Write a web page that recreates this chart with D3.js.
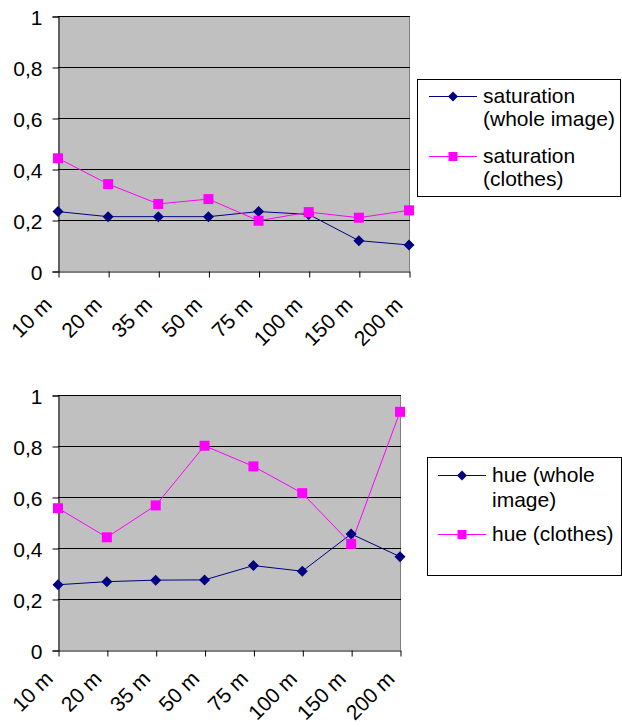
<!DOCTYPE html>
<html>
<head>
<meta charset="utf-8">
<script src="https://cdn.jsdelivr.net/npm/d3@7/dist/d3.min.js"></script>
<style>
  html, body { margin: 0; padding: 0; background: #fff; }
  svg { display: block; }
  text { font-family: "Liberation Sans", Arial, sans-serif; fill: #000; }
</style>
</head>
<body>
<svg id="chart" width="622" height="727"></svg>
<script>
// ---- data ----
const categories = ["10 m", "20 m", "35 m", "50 m", "75 m", "100 m", "150 m", "200 m"];
const yTicks = [0, 0.2, 0.4, 0.6, 0.8, 1];

const satNames = ["saturation (whole image)", "saturation (clothes)"];
const satWhole   = [0.233, 0.213, 0.213, 0.213, 0.233, 0.222, 0.119, 0.102];
const satClothes = [0.442, 0.341, 0.263, 0.282, 0.197, 0.231, 0.209, 0.238];

const hueNames = ["hue (whole image)", "hue (clothes)"];
const hueWhole   = [0.256, 0.268, 0.274, 0.275, 0.331, 0.309, 0.455, 0.366];
const hueClothes = [0.556, 0.442, 0.567, 0.801, 0.720, 0.615, 0.416, 0.934];

// ---- styling ----
const colors = ["#000080", "#FF00FF"];
const markers = ["diamond", "square"];
const fontSize = 21;

const svg = d3.select("#chart");

function drawMarker(g, type, x, y, color, r) {
  if (type === "diamond") {
    g.append("path")
      .attr("d", `M${x},${y - r}L${x + r},${y}L${x},${y + r}L${x - r},${y}Z`)
      .attr("fill", color);
  } else {
    const s = r - 0.5;
    g.append("rect").attr("x", x - s).attr("y", y - s)
      .attr("width", 2 * s).attr("height", 2 * s).attr("fill", color);
  }
}

function wrapText(textSel, str, maxW, lineH) {
  const words = str.split(" ");
  let line = [];
  let tspan = textSel.append("tspan").attr("x", textSel.attr("x")).attr("dy", 0);
  words.forEach(w => {
    line.push(w);
    tspan.text(line.join(" "));
    if (tspan.node().getComputedTextLength() > maxW && line.length > 1) {
      line.pop();
      tspan.text(line.join(" "));
      line = [w];
      tspan = textSel.append("tspan").attr("x", textSel.attr("x")).attr("dy", lineH).text(w);
    }
  });
}

function drawChart(cfg, names, seriesList) {
  const g = svg.append("g");
  const x = d3.scalePoint().domain(categories).range([cfg.left, cfg.right]).padding(0);
  const y = d3.scaleLinear().domain([0, 1]).range([cfg.bottom, cfg.top]);

  g.append("rect")
    .attr("x", cfg.left).attr("y", cfg.top)
    .attr("width", cfg.right - cfg.left).attr("height", cfg.bottom - cfg.top)
    .attr("fill", "#C0C0C0");
  g.append("line")
    .attr("x1", cfg.right + 0.5).attr("x2", cfg.right + 0.5)
    .attr("y1", cfg.top).attr("y2", cfg.bottom)
    .attr("stroke", "#808080").attr("stroke-width", 1);

  g.selectAll(".grid").data(yTicks.filter(t => t > 0)).enter().append("line")
    .attr("x1", cfg.left).attr("x2", cfg.right + 1)
    .attr("y1", d => Math.round(y(d)) + 0.5).attr("y2", d => Math.round(y(d)) + 0.5)
    .attr("stroke", "#000").attr("stroke-width", 1);

  const yAxis = d3.axisLeft(y).tickValues(yTicks).tickSize(6).tickPadding(10)
    .tickFormat(d => d3.format(".1~f")(d).replace(".", ","));
  const ya = g.append("g").attr("transform", `translate(${cfg.left + 0.5},0.5)`).call(yAxis);
  ya.select(".domain").attr("stroke", "#000");
  ya.selectAll(".tick line").attr("stroke", "#000");
  ya.selectAll("text").attr("font-size", fontSize).attr("font-family", "Liberation Sans, Arial, sans-serif").attr("dy", "0.36em");

  const xAxis = d3.axisBottom(x).tickSize(6).tickSizeOuter(0).tickFormat("");
  const xa = g.append("g").attr("transform", `translate(0.5,${cfg.bottom + 0.5})`).call(xAxis);
  xa.select(".domain").attr("stroke", "#000");
  xa.selectAll(".tick line").attr("stroke", "#000");
  g.selectAll(".xl").data(categories).enter().append("text")
    .attr("text-anchor", "end")
    .attr("font-size", fontSize)
    .attr("transform", d => `translate(${x(d) + cfg.lblDx},${cfg.bottom + cfg.lblDy}) rotate(-45)`)
    .text(d => d);

  const line = d3.line().x((d, i) => x(categories[i])).y(d => y(d));
  seriesList.forEach((vals, si) => {
    g.append("path").datum(vals).attr("d", line)
      .attr("fill", "none").attr("stroke", colors[si]).attr("stroke-width", 1);
  });
  seriesList.forEach((vals, si) => {
    vals.forEach((v, i) => drawMarker(g, markers[si], x(categories[i]), y(v), colors[si], 5.5));
  });

  const L = cfg.legend;
  g.append("rect").attr("x", L.x + 0.5).attr("y", L.y + 0.5)
    .attr("width", L.w).attr("height", L.h)
    .attr("fill", "#fff").attr("stroke", "#000").attr("stroke-width", 1);
  names.forEach((nm, si) => {
    const ly = L.itemY[si];
    g.append("line").attr("x1", L.sx1).attr("x2", L.sx2)
      .attr("y1", ly + 0.5).attr("y2", ly + 0.5)
      .attr("stroke", colors[si]).attr("stroke-width", 1);
    drawMarker(g, markers[si], (L.sx1 + L.sx2) / 2, ly + 0.5, colors[si], 5);
    const t = g.append("text").attr("x", L.tx).attr("y", ly + 7).attr("font-size", fontSize);
    wrapText(t, nm, L.maxW, L.lineH);
  });
}

drawChart({
  left: 58, right: 409, top: 16, bottom: 271, lblDx: -5, lblDy: 35,
  legend: { x: 417, y: 79, w: 203, h: 117, sx1: 429, sx2: 477, tx: 483, maxW: 137, lineH: 23, itemY: [96, 156] }
}, satNames, [satWhole, satClothes]);

drawChart({
  left: 58, right: 400, top: 395, bottom: 650, lblDx: -4, lblDy: 30,
  legend: { x: 427, y: 457, w: 194, h: 118, sx1: 438, sx2: 486, tx: 492, maxW: 128, lineH: 25, itemY: [475, 534] }
}, hueNames, [hueWhole, hueClothes]);
</script>
</body>
</html>
